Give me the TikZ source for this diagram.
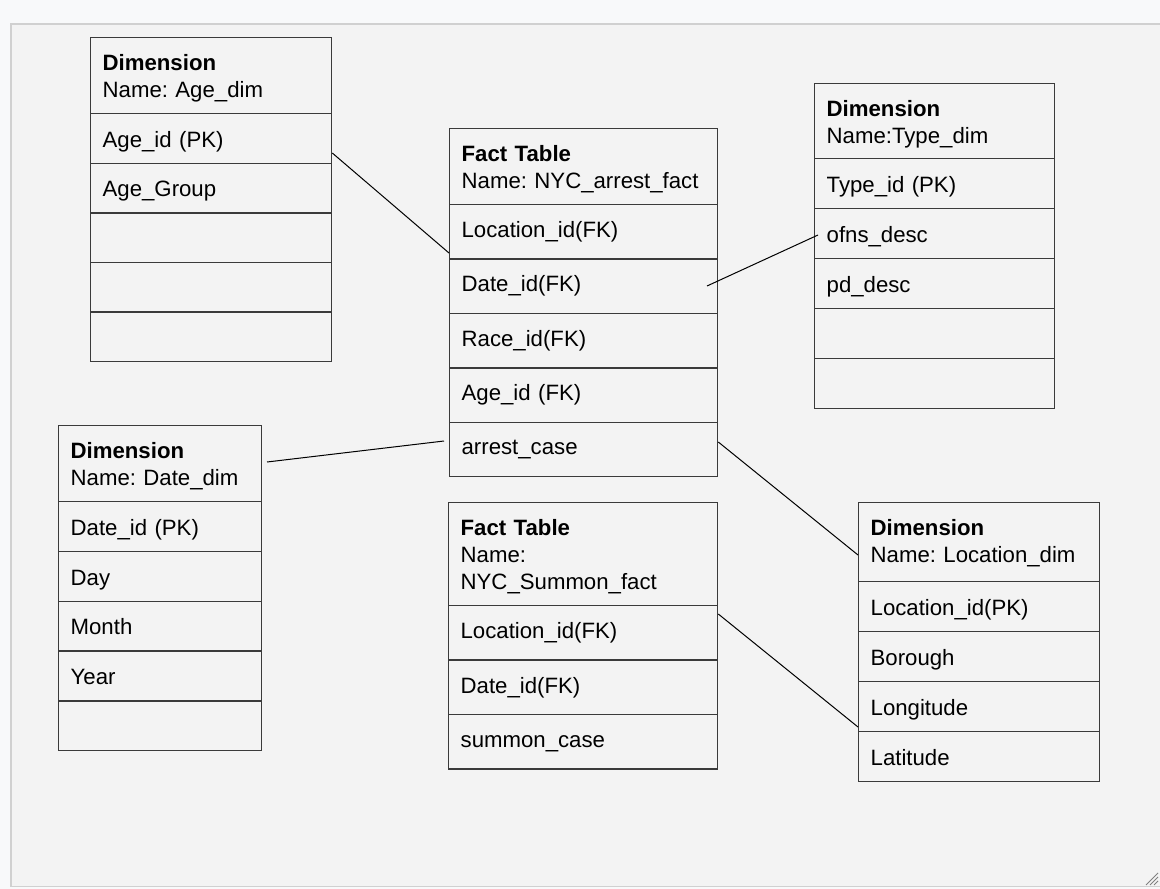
\documentclass[tikz,border=0pt]{standalone}
\usepackage{fontspec}
\setmainfont{Liberation Sans}
\frenchspacing
\definecolor{pagebg}{HTML}{F8F9FA}
\definecolor{panelbg}{HTML}{F3F3F3}
\definecolor{panelline}{HTML}{D0D0D0}
\definecolor{boxline}{HTML}{3A3A3A}
\begin{document}
\begin{tikzpicture}[x=1pt,y=-1pt,
  every node/.style={font=\fontsize{22.2pt}{27pt}\selectfont\frenchspacing, text=black},
  cell/.style={draw=boxline, line width=1.3pt, fill=none, anchor=north west,
    inner xsep=12pt, inner ysep=0pt, align=left, text height=#1, text depth=0pt},
  cell/.default=17.5pt,
  widecell/.style={cell=11pt},
  hdrtwo/.style={cell=#1, text depth=27pt},
  hdrtwo/.default=16pt,
  hdrthree/.style={cell=16pt, text depth=54pt},
  link/.style={draw=black, line width=1pt}]
\useasboundingbox (0,0) rectangle (1160,889);
\fill[pagebg] (0,0) rectangle (1160,889);
\filldraw[fill=panelbg, draw=panelline, line width=1.2pt] (11,24) rectangle (1165,886.5);
% resize grip
\foreach \d in {0,4,8,12}
  \draw[gray, line width=0.8pt] (1158-\d,885) -- (1158,885-\d);

% Age_dim
\node[hdrtwo, minimum height=76pt, text width=217pt] (ageh) at (90,37) {\textbf{Dimension}\\Name: Age\_dim};
\node[cell, minimum height=49.6pt, text width=217pt] (age1) at (90,113) {Age\_id (PK)};
\node[cell, minimum height=49.6pt, text width=217pt] (age2) at (90,162.6) {Age\_Group};
\node[cell, minimum height=49.6pt, text width=217pt] (age3) at (90,212.2) {};
\node[cell, minimum height=49.6pt, text width=217pt] (age4) at (90,261.8) {};
\node[cell, minimum height=49.6pt, text width=217pt] (age5) at (90,311.4) {};

% NYC_arrest_fact
\node[hdrtwo, minimum height=76pt, text width=244pt] (arrh) at (449,128) {\textbf{Fact Table}\\Name: NYC\_arrest\_fact};
\node[widecell, minimum height=54.4pt, text width=244pt] (arr1) at (449,204) {Location\_id(FK)};
\node[widecell, minimum height=54.4pt, text width=244pt] (arr2) at (449,258.4) {Date\_id(FK)};
\node[widecell, minimum height=54.4pt, text width=244pt] (arr3) at (449,312.8) {Race\_id(FK)};
\node[widecell, minimum height=54.4pt, text width=244pt] (arr4) at (449,367.2) {Age\_id (FK)};
\node[widecell, minimum height=54.4pt, text width=244pt] (arr5) at (449,421.6) {arrest\_case};

% Type_dim
\node[hdrtwo=17pt, minimum height=75pt, text width=216pt] (typh) at (814,83) {\textbf{Dimension}\\Name:Type\_dim};
\node[cell, minimum height=50pt, text width=216pt] (typ1) at (814,158) {Type\_id (PK)};
\node[cell, minimum height=50pt, text width=216pt] (typ2) at (814,208) {ofns\_desc};
\node[cell, minimum height=50pt, text width=216pt] (typ3) at (814,258) {pd\_desc};
\node[cell, minimum height=50pt, text width=216pt] (typ4) at (814,308) {};
\node[cell, minimum height=50pt, text width=216pt] (typ5) at (814,358) {};

% Date_dim
\node[hdrtwo, minimum height=76pt, text width=179pt] (dath) at (58,425) {\textbf{Dimension}\\Name: Date\_dim};
\node[cell, minimum height=49.8pt, text width=179pt] (dat1) at (58,501) {Date\_id (PK)};
\node[cell, minimum height=49.8pt, text width=179pt] (dat2) at (58,550.8) {Day};
\node[cell, minimum height=49.8pt, text width=179pt] (dat3) at (58,600.6) {Month};
\node[cell, minimum height=49.8pt, text width=179pt] (dat4) at (58,650.4) {Year};
\node[cell, minimum height=49.8pt, text width=179pt] (dat5) at (58,700.2) {};

% NYC_Summon_fact
\node[hdrthree, minimum height=103pt, text width=245pt] (sumh) at (448,502) {\textbf{Fact Table}\\Name:\\NYC\_Summon\_fact};
\node[cell=12pt, minimum height=54.4pt, text width=245pt] (sum1) at (448,605) {Location\_id(FK)};
\node[cell=12pt, minimum height=54.4pt, text width=245pt] (sum2) at (448,659.4) {Date\_id(FK)};
\node[cell=12pt, minimum height=54.4pt, text width=245pt] (sum3) at (448,713.8) {summon\_case};

% Location_dim
\node[hdrtwo=14pt, minimum height=79pt, text width=217pt] (loch) at (858,502) {\textbf{Dimension}\\Name: Location\_dim};
\node[cell, minimum height=50pt, text width=217pt] (loc1) at (858,581) {Location\_id(PK)};
\node[cell, minimum height=50pt, text width=217pt] (loc2) at (858,631) {Borough};
\node[cell, minimum height=50pt, text width=217pt] (loc3) at (858,681) {Longitude};
\node[cell, minimum height=50pt, text width=217pt] (loc4) at (858,731) {Latitude};

% connectors
\coordinate (c1a) at (age1.east |- 0,153);
\coordinate (c1b) at (arr1.west |- 0,253);
\coordinate (c2a) at (707,286);
\coordinate (c2b) at (818,235);
\coordinate (c3a) at (267,462);
\coordinate (c3b) at (444,441);
\coordinate (c4a) at (arr5.east |- 0,442);
\coordinate (c4b) at (loch.west |- 0,555);
\coordinate (c5a) at (sum1.east |- 0,614);
\coordinate (c5b) at (loc3.west |- 0,727);
\draw[link] (c1a) -- (c1b);
\draw[link] (c2a) -- (c2b);
\draw[link] (c3a) -- (c3b);
\draw[link] (c4a) -- (c4b);
\draw[link] (c5a) -- (c5b);
\end{tikzpicture}
\end{document}
